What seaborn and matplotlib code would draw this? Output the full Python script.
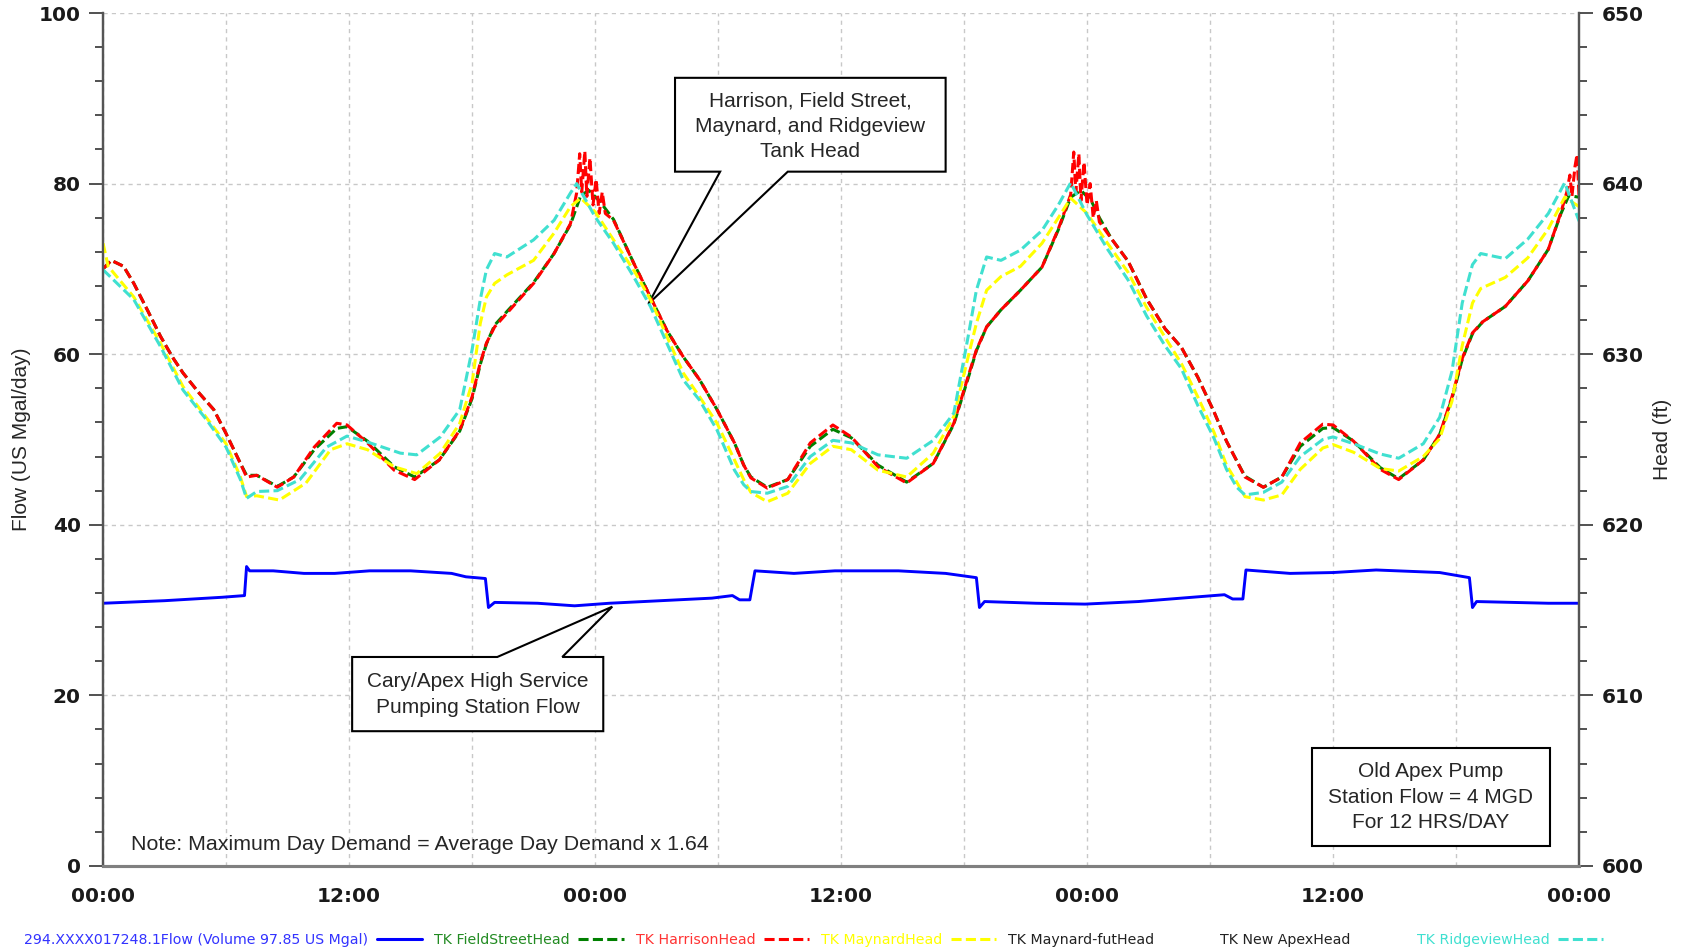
import matplotlib
matplotlib.use("Agg")
import numpy as np
import matplotlib.pyplot as plt
import seaborn as sns
from matplotlib.lines import Line2D
from matplotlib.patches import Polygon, Rectangle
from matplotlib.ticker import MultipleLocator, FuncFormatter

# pump station flow, US Mgal/day (left axis)
flow_hr = [0, 3, 5.8, 6.9, 7.0, 7.15, 8.3, 9.8, 11.3, 13.0, 15.0, 17.0, 17.7, 18.65,
           18.8, 19.1, 21.2, 23.0, 24.7, 27.2, 29.7, 30.7, 31.05, 31.55, 31.8, 33.7,
           35.7, 38.8, 41.1, 42.6, 42.75, 43.0, 45.5, 47.9, 50.5, 52.6, 54.7, 55.1,
           55.6, 55.75, 57.9, 60.0, 62.1, 65.2, 66.65, 66.8, 67.0, 70.5, 72.0]
flow_val = [30.8, 31.1, 31.5, 31.7, 35.1, 34.6, 34.6, 34.3, 34.3, 34.6, 34.6, 34.3, 33.9, 33.7,
            30.3, 30.9, 30.8, 30.5, 30.8, 31.1, 31.4, 31.7, 31.2, 31.2, 34.6, 34.3,
            34.6, 34.6, 34.3, 33.8, 30.3, 31.0, 30.8, 30.7, 31.0, 31.4, 31.8, 31.3,
            31.3, 34.7, 34.3, 34.4, 34.7, 34.4, 33.8, 30.3, 31.0, 30.8, 30.8]

# tank heads, ft (right axis)
field_hr = [0.0, 0.4, 1.0, 1.5, 2.2, 2.8, 3.4, 3.9, 4.7, 5.4, 6.0, 6.7, 7.0, 7.5, 8.5, 9.3,
            10.3, 11.4, 11.9, 12.9, 14.2, 15.2, 16.4, 17.4, 18.0, 18.4, 18.7, 19.1, 19.7,
            21.0, 22.0, 22.8, 23.3, 23.7, 24.2, 24.9, 25.9, 26.7, 27.5, 28.3, 29.1, 29.95,
            30.8, 31.25, 31.6, 32.4, 33.4, 34.5, 35.6, 36.5, 37.8, 39.2, 40.5, 41.5, 42.2,
            42.6, 43.1, 43.8, 44.75, 45.8, 46.6, 47.2, 47.7, 48.2, 48.6, 49.2, 50.0, 50.9,
            51.8, 52.6, 53.4, 54.2, 54.8, 55.3, 55.7, 56.6, 57.5, 58.4, 59.5, 60.0, 61.0,
            62.3, 63.2, 64.4, 65.2, 65.8, 66.3, 66.8, 67.3, 68.4, 69.5, 70.5, 71.1, 71.5, 72.0]
field_ft = [635.0, 635.5, 635.15, 634.15, 632.5, 631.05, 629.8, 628.9, 627.7, 626.75, 625.35,
            623.6, 622.9, 622.9, 622.25, 622.8, 624.4, 625.65, 625.75, 624.9, 623.4, 622.8,
            623.8, 625.5, 627.4, 629.4, 630.6, 631.7, 632.5, 634.2, 635.9, 637.6, 639.3,
            639.6, 639.0, 637.9, 635.3, 633.35, 631.4, 629.85, 628.5, 626.75, 624.8, 623.5,
            622.8, 622.2, 622.65, 624.6, 625.6, 625.1, 623.5, 622.5, 623.6, 625.9, 628.6,
            630.2, 631.6, 632.6, 633.75, 635.1, 637.3, 639.2, 639.6, 639.0, 638.0, 636.75,
            635.45, 633.25, 631.5, 630.4, 628.65, 626.6, 624.9, 623.75, 622.85, 622.2, 622.8,
            624.6, 625.65, 625.7, 624.9, 623.35, 622.7, 623.8, 625.3, 627.4, 629.7, 631.2,
            631.9, 632.8, 634.3, 636.15, 638.2, 639.3, 639.2]

harrison_hr = [0.0, 0.4, 1.0, 1.5, 2.2, 2.8, 3.4, 3.9, 4.7, 5.4, 6.0, 6.7, 7.0, 7.5, 8.5, 9.3,
               10.3, 11.4, 11.9, 12.9, 14.2, 15.2, 16.4, 17.4, 18.0, 18.4, 18.7, 19.1, 19.7,
               21.0, 22.0, 22.8, 23.1, 23.25, 23.35, 23.5, 23.6, 23.75, 23.9, 24.05, 24.2,
               24.35, 24.5, 24.9, 25.9, 26.7, 27.5, 28.3, 29.1, 29.95, 30.8, 31.25, 31.6, 32.4,
               33.4, 34.5, 35.6, 36.5, 37.8, 39.2, 40.5, 41.5, 42.2, 42.6, 43.1, 43.8, 44.75,
               45.8, 46.6, 47.2, 47.35, 47.45, 47.6, 47.7, 47.85, 48.0, 48.15, 48.3, 48.45,
               48.6, 49.2, 50.0, 50.9, 51.8, 52.6, 53.4, 54.2, 54.8, 55.3, 55.7, 56.6, 57.5,
               58.4, 59.5, 60.0, 61.0, 62.3, 63.2, 64.4, 65.2, 65.8, 66.3, 66.8, 67.3, 68.4,
               69.5, 70.5, 71.1, 71.4, 71.55, 71.65, 71.8, 71.9, 72.0]
harrison_ft = [635.0, 635.5, 635.15, 634.15, 632.5, 631.05, 629.8, 628.9, 627.7, 626.75, 625.35,
               623.6, 622.8, 622.9, 622.2, 622.8, 624.55, 625.95, 625.85, 624.8, 623.2, 622.65,
               623.8, 625.55, 627.5, 629.5, 630.65, 631.6, 632.4, 634.15, 635.9, 637.65, 639.45,
               641.75, 639.5, 641.9, 639.25, 641.5, 638.75, 640.25, 638.25, 639.5, 638.25,
               637.85, 635.3, 633.35, 631.4, 629.85, 628.5, 626.75, 624.8, 623.5, 622.75,
               622.15, 622.65, 624.8, 625.85, 625.15, 623.4, 622.45, 623.6, 625.95, 628.7,
               630.25, 631.6, 632.6, 633.75, 635.1, 637.35, 639.35, 641.85, 639.5, 641.75,
               639.0, 641.25, 638.75, 640.0, 638.0, 639.0, 637.75, 636.75, 635.45, 633.25,
               631.5, 630.4, 628.65, 626.6, 624.9, 623.75, 622.8, 622.2, 622.8, 624.8, 625.9,
               625.85, 624.9, 623.25, 622.65, 623.8, 625.3, 627.5, 629.75, 631.25, 631.9,
               632.8, 634.3, 636.15, 638.25, 639.5, 640.5, 639.25, 641.0, 641.7, 639.25]

maynard_hr = [0.0, 0.25, 1.5, 2.8, 3.9, 5.0, 6.0, 6.7, 7.0, 7.5, 8.6, 9.9, 11.1, 11.9, 12.9,
              14.2, 15.3, 16.45, 17.4, 18.0, 18.4, 18.7, 19.1, 19.7, 21.0, 22.0, 22.8, 23.3,
              24.0, 24.9, 25.9, 26.7, 27.5, 28.3, 29.1, 29.95, 30.8, 31.25, 31.6, 32.4, 33.4,
              34.5, 35.6, 36.5, 37.8, 39.2, 40.5, 41.5, 42.2, 42.6, 43.1, 43.8, 44.75, 45.8,
              46.6, 47.2, 48.0, 49.0, 50.0, 50.9, 51.8, 52.6, 53.4, 54.2, 54.8, 55.3, 55.7,
              56.6, 57.5, 58.4, 59.5, 60.0, 61.0, 62.3, 63.2, 64.4, 65.2, 65.8, 66.3, 66.8,
              67.2, 68.4, 69.5, 70.5, 71.3, 72.0]
maynard_ft = [636.5, 635.15, 633.35, 630.65, 628.1, 626.35, 624.75, 622.8, 621.65, 621.7,
              621.45, 622.45, 624.4, 624.75, 624.4, 623.4, 623.0, 624.2, 625.95, 628.3, 631.8,
              633.35, 634.15, 634.65, 635.5, 637.1, 638.65, 639.15, 638.35, 636.7, 634.9,
              633.2, 631.05, 628.9, 627.5, 625.95, 623.8, 622.65, 621.9, 621.35, 621.85, 623.6,
              624.6, 624.4, 623.2, 622.8, 624.2, 626.35, 629.85, 631.8, 633.75, 634.55, 635.15,
              636.5, 638.0, 639.15, 638.25, 636.5, 634.8, 632.75, 631.0, 629.45, 627.5, 625.4,
              623.5, 622.5, 621.65, 621.45, 621.75, 623.25, 624.5, 624.7, 624.25, 623.3,
              623.15, 624.0, 625.05, 627.25, 630.5, 633.0, 633.85, 634.5, 635.65, 637.35,
              639.2, 638.65]

ridgeview_hr = [0.0, 1.5, 2.8, 3.9, 5.05, 6.0, 6.7, 7.0, 7.5, 8.5, 9.6, 10.9, 11.9, 12.9,
                14.5, 15.3, 16.45, 17.4, 18.0, 18.4, 18.7, 19.1, 19.7, 21.0, 22.0, 22.8, 23.1,
                24.0, 24.9, 25.9, 26.7, 27.5, 28.3, 29.1, 29.95, 30.8, 31.25, 31.6, 32.4, 33.4,
                34.5, 35.6, 36.5, 37.8, 39.2, 40.5, 41.5, 42.2, 42.6, 43.1, 43.8, 44.75, 45.8,
                46.6, 47.2, 48.0, 49.0, 50.0, 50.9, 51.8, 52.6, 53.4, 54.2, 54.8, 55.3, 55.7,
                56.6, 57.5, 58.4, 59.5, 60.0, 61.0, 62.3, 63.2, 64.4, 65.2, 65.8, 66.3, 66.8,
                67.2, 68.4, 69.5, 70.5, 71.3, 72.0]
ridgeview_ft = [634.95, 633.2, 630.45, 627.9, 626.15, 624.55, 622.65, 621.55, 621.95, 622.0,
                622.65, 624.55, 625.2, 624.85, 624.2, 624.1, 625.15, 626.75, 630.25, 633.2,
                634.95, 635.9, 635.7, 636.7, 637.85, 639.45, 640.0, 638.05, 636.5, 634.5, 632.8,
                630.65, 628.5, 627.3, 625.55, 623.2, 622.35, 621.95, 621.85, 622.25, 624.0,
                624.95, 624.8, 624.1, 623.9, 624.95, 626.55, 631.05, 633.75, 635.7, 635.5,
                636.1, 637.25, 638.75, 640.05, 638.15, 636.15, 634.35, 632.25, 630.5, 629.15,
                627.0, 625.05, 623.25, 622.2, 621.75, 621.9, 622.5, 624.0, 625.0, 625.15,
                624.75, 624.15, 623.9, 624.75, 626.3, 629.0, 633.0, 635.25, 635.9, 635.6,
                636.75, 638.25, 640.05, 637.8]

legend_labels = ["294.XXXX017248.1Flow (Volume 97.85 US Mgal)", "TK FieldStreetHead",
                 "TK HarrisonHead", "TK MaynardHead", "TK Maynard-futHead",
                 "TK New ApexHead", "TK RidgeviewHead"]

sns.set_style("white")
plt.rcParams["font.family"] = ["Liberation Sans", "DejaVu Sans"]

fig = plt.figure(figsize=(16.84, 9.49), dpi=100)
ax = fig.add_axes([0.0612, 0.0875, 0.8765, 0.8988])
ax2 = ax.twinx()

dash = (0, (3.3, 1.4))
sns.lineplot(x=np.array(flow_hr), y=np.array(flow_val), ax=ax, color="#0000ff",
             linewidth=2.1, sort=False, errorbar=None)
sns.lineplot(x=np.array(field_hr), y=np.array(field_ft), ax=ax2, color="#008000",
             linewidth=2.2, linestyle=dash, sort=False, errorbar=None)
sns.lineplot(x=np.array(harrison_hr), y=np.array(harrison_ft), ax=ax2, color="#ff0000",
             linewidth=2.2, linestyle=dash, sort=False, errorbar=None)
sns.lineplot(x=np.array(maynard_hr), y=np.array(maynard_ft), ax=ax2, color="#ffff00",
             linewidth=2.2, linestyle=dash, sort=False, errorbar=None)
sns.lineplot(x=np.array(ridgeview_hr), y=np.array(ridgeview_ft), ax=ax2, color="#40e0d0",
             linewidth=2.2, linestyle=dash, sort=False, errorbar=None)

ax.set_xlim(0, 72)
ax.set_ylim(0, 100)
ax2.set_ylim(600, 650)
ax.set_xlabel("")
ax.set_ylabel("")
ax2.set_ylabel("")

ax.xaxis.set_major_locator(MultipleLocator(6))
ax.xaxis.set_minor_locator(MultipleLocator(3))
ax.xaxis.set_major_formatter(FuncFormatter(
    lambda v, p: "%02d:00" % (v % 24) if v % 12 == 0 else ""))
ax.yaxis.set_major_locator(MultipleLocator(20))
ax.yaxis.set_minor_locator(MultipleLocator(4))
ax2.yaxis.set_major_locator(MultipleLocator(10))
ax2.yaxis.set_minor_locator(MultipleLocator(2))

ax.grid(True, which="major", color="#c8c8c8", linestyle=(0, (3, 3)), linewidth=1)
ax2.grid(False)

for a in (ax, ax2):
    a.spines["top"].set_visible(False)
    for s in ("left", "right"):
        a.spines[s].set_color("#555555")
        a.spines[s].set_linewidth(1.6)
    a.spines["bottom"].set_color("#808080")
    a.spines["bottom"].set_linewidth(2.2)

ax.tick_params(axis="both", which="both", direction="out", colors="#333333", width=1.2)
ax.tick_params(axis="x", which="major", length=12, pad=3, labelsize=14.5)
ax.tick_params(axis="x", which="minor", length=6)
ax.tick_params(axis="y", which="major", length=10, pad=6, labelsize=14.5, left=True)
ax.tick_params(axis="y", which="minor", length=6, left=True)
ax2.tick_params(axis="y", which="both", direction="out", colors="#333333", width=1.2)
ax2.tick_params(axis="y", which="major", length=10, pad=6, labelsize=14.5, right=True)
ax2.tick_params(axis="y", which="minor", length=6, right=True)
for lab in ax.get_xticklabels() + ax.get_yticklabels() + ax2.get_yticklabels():
    lab.set_fontfamily("DejaVu Sans")
    lab.set_fontweight("bold")
    lab.set_color("#1a1a1a")

ax.set_ylabel("Flow (US Mgal/day)", fontsize=15, va="center")
ax.yaxis.set_label_coords(-0.0555, 0.5)
ax2.set_ylabel("Head (ft)", fontsize=15, va="center", rotation=90)
ax2.yaxis.set_label_coords(1.0563, 0.5)

# callout: tank heads
ax.add_patch(Rectangle((27.9, 81.4), 13.2, 11.0, fc="white", ec="none", zorder=5))
ax.add_patch(Polygon([(27.9, 92.4), (41.1, 92.4), (41.1, 81.4), (33.4, 81.4), (26.6, 65.9),
                      (30.1, 81.4), (27.9, 81.4)], closed=True, fill=False, ec="black",
                     lw=1.5, zorder=6))
ax.text(34.5, 86.7, "Harrison, Field Street,\nMaynard, and Ridgeview\nTank Head",
        ha="center", va="center", fontsize=15, linespacing=1.42, zorder=7)

# callout: pump station flow
ax.add_patch(Rectangle((12.15, 15.8), 12.25, 8.7, fc="white", ec="none", zorder=5))
ax.add_patch(Polygon([(12.15, 15.8), (24.4, 15.8), (24.4, 24.5), (22.4, 24.5), (24.84, 30.4),
                      (19.23, 24.5), (12.15, 24.5)], closed=True, fill=False, ec="black",
                     lw=1.5, zorder=6))
ax.text(18.3, 20.1, "Cary/Apex High Service\nPumping Station Flow",
        ha="center", va="center", fontsize=15, linespacing=1.42, zorder=7)

ax.text(64.75, 8.05, "Old Apex Pump\nStation Flow = 4 MGD\nFor 12 HRS/DAY",
        ha="center", va="center", fontsize=15, linespacing=1.42, zorder=7)
ax.add_patch(Rectangle((58.95, 2.3), 11.65, 11.5, fc="white", ec="black", lw=1.5, zorder=5))

ax.text(1.37, 2.5, "Note: Maximum Day Demand = Average Day Demand x 1.64",
        ha="left", va="center", fontsize=15.4, zorder=7)

handles = [
    Line2D([], [], color="#0000ff", lw=2.2),
    Line2D([], [], color="#008000", lw=2.2, linestyle=dash),
    Line2D([], [], color="#ff0000", lw=2.2, linestyle=dash),
    Line2D([], [], color="#ffff00", lw=2.2, linestyle=dash),
    Line2D([], [], linestyle="None"),
    Line2D([], [], linestyle="None"),
    Line2D([], [], color="#40e0d0", lw=2.2, linestyle=dash),
]
fig.legend(handles, legend_labels, loc="lower left", bbox_to_anchor=(0.0145, 0.002), ncol=7,
           frameon=False, markerfirst=False, handlelength=3.2, handletextpad=0.6,
           columnspacing=0.85, borderpad=0, borderaxespad=0,
           prop={"family": "DejaVu Sans", "size": 10.2},
           labelcolor=["#3333ff", "#228b22", "#ff3333", "#ffff00", "#222222", "#222222",
                       "#40e0d0"])

fig.savefig("out.png", dpi=100)
